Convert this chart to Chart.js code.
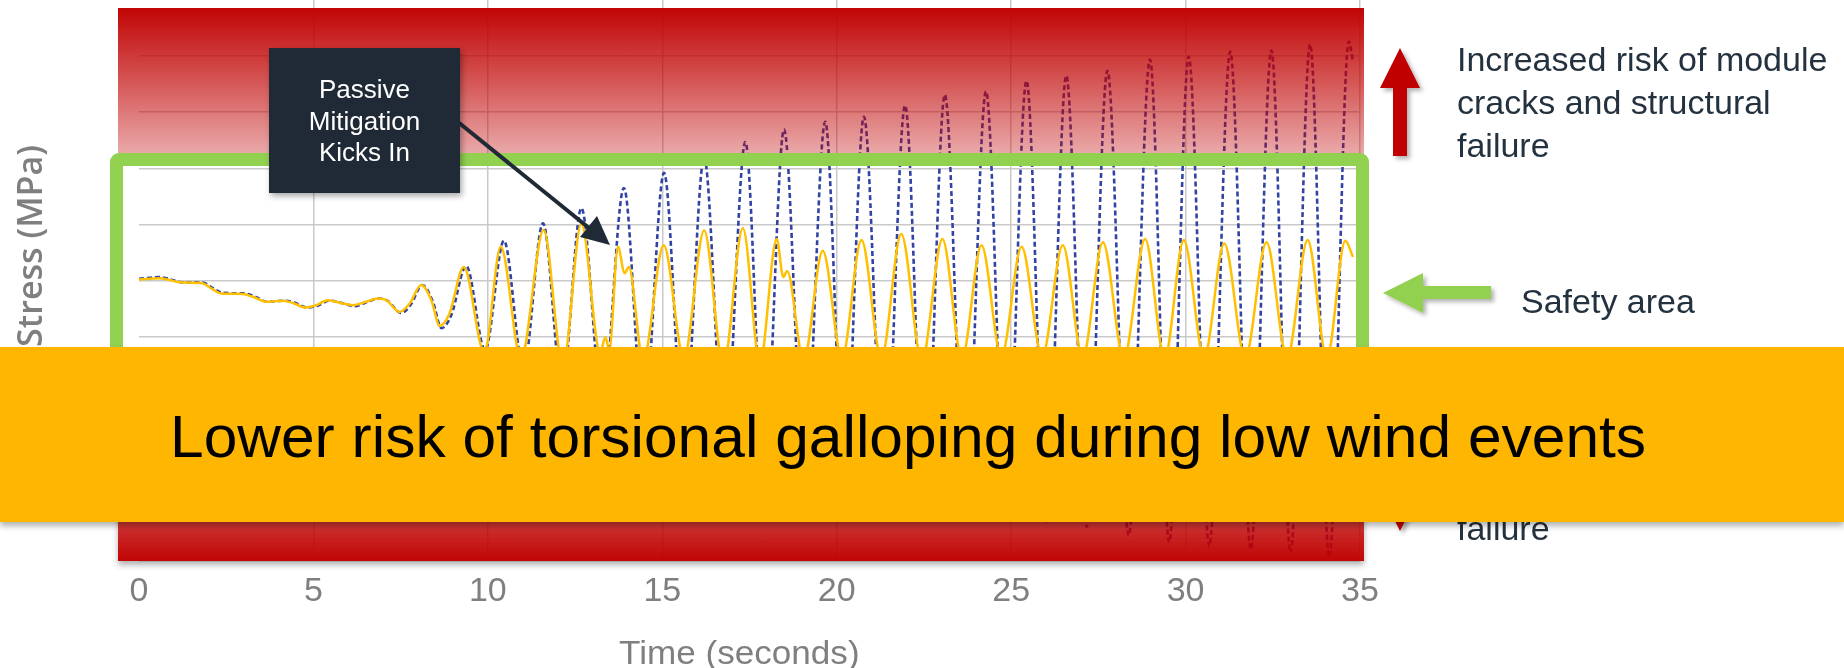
<!DOCTYPE html>
<html>
<head>
<meta charset="utf-8">
<title>Torsional galloping stress</title>
<script src="https://cdn.jsdelivr.net/npm/chart.js@4.4.1/dist/chart.umd.min.js"></script>
<style>
  html, body { margin: 0; padding: 0; background: #fff; }
  #stage { position: relative; width: 1844px; height: 668px; overflow: hidden; }
  #stage > * { position: absolute; }
  #stressChart { left: 0; top: 0; }

  /* risk zones: translucent red laid over the plot, strongest at the outer edge */
  .band { left: 118px; width: 1246px; }
  .band.upper { top: 8px; height: 152px; background: linear-gradient(to bottom, rgba(192,0,0,0.98) 0px, rgba(192,0,0,0.66) 75px, rgba(192,0,0,0.34) 145px, rgba(192,0,0,0.32) 152px); }
  .band.lower { top: 426px; height: 135px; background: linear-gradient(to top, rgba(192,0,0,0.98) 0px, rgba(192,0,0,0.34) 135px); box-shadow: 0 4px 6px rgba(0,0,0,.3); }

  .safe-box { left: 110px; top: 153px; width: 1233px; height: 261px; border: 13px solid #92d050; border-radius: 9px; }

  .callout { left: 269px; top: 48px; width: 191px; height: 145px; background: #1f2a36; box-shadow: 2px 3px 6px rgba(0,0,0,.35);
             text-align: center; color: #fff; font: 26px 'Liberation Sans', Arial, sans-serif; line-height: 31.5px; }
  .callout span { display: inline-block; margin-top: 26px; transform-origin: center top; }

  .note { color: #24323f; font: 34px 'Liberation Sans', Arial, sans-serif; line-height: 43px; white-space: nowrap; }

  .axis-title { color: #7f7f7f; white-space: nowrap; line-height: 1; }
  #xTitle { left: 619px; top: 634px; font: 33.5px 'Liberation Sans', Arial, sans-serif; transform-origin: left top; }
  #yTitle { left: 29px; top: 246px; font: 600 34px 'Open Sans', sans-serif; }

  .banner { left: 0; top: 347px; width: 1844px; height: 175px; background: #ffb600; box-shadow: 0 4px 6px rgba(0,0,0,.3); }
  .banner div { position: absolute; left: 170px; top: 59.9px; font: 60px 'Liberation Sans', Arial, sans-serif; line-height: 1;
                color: #000; white-space: nowrap; transform-origin: left top; }
</style>
</head>
<body>
<div id="stage">
  <canvas id="stressChart" width="1844" height="668"></canvas>

  <div class="band upper"></div>
  <div class="band lower"></div>
  <div class="safe-box"></div>

  <svg width="1844" height="668" style="left:0;top:0">
    <defs>
      <filter id="shade" x="-20%" y="-20%" width="160%" height="160%">
        <feDropShadow dx="3" dy="3" stdDeviation="2" flood-color="#000" flood-opacity="0.3"/>
      </filter>
    </defs>
    <!-- red arrows: risk above and below the safe band -->
    <polygon points="1400,48 1420,88 1407,88 1407,156 1393,156 1393,88 1380,88" fill="#c00000" filter="url(#shade)"/>
    <polygon points="1400,531 1420,491 1407,491 1407,423 1393,423 1393,491 1380,491" fill="#c00000" filter="url(#shade)"/>
    <!-- green arrow pointing at the safe band -->
    <polygon points="1383,293 1423,273 1423,286 1491,286 1491,299 1423,299 1423,313" fill="#92d050" filter="url(#shade)"/>
    <!-- pointer from the callout -->
    <line x1="458" y1="122" x2="589" y2="228" stroke="#1f2a36" stroke-width="4"/>
    <polygon points="610,245 580,237 597,216" fill="#1f2a36"/>
  </svg>

  <div class="callout"><span id="calloutText">Passive<br>Mitigation<br>Kicks In</span></div>

  <div class="note" style="left:1457px;top:37.7px">Increased risk of module<br>cracks and structural<br>failure</div>
  <div class="note" style="left:1521px;top:279.7px">Safety area</div>
  <div class="note" style="left:1457px;top:420.7px">Increased risk of module<br>cracks and structural<br>failure</div>

  <div class="axis-title" id="yTitle">Stress (MPa)</div>
  <div class="axis-title" id="xTitle">Time (seconds)</div>

  <div class="banner"><div id="bannerText">Lower risk of torsional galloping during low wind events</div></div>
</div>

<script>
// stress response over time, with and without passive mitigation
const mitigatedTime = [0, 0.59, 0.87, 1.16, 1.82, 2.07, 2.36, 2.98, 3.26, 3.65, 4.13, 4.41, 4.75, 5.08, 5.41, 5.84, 6.13, 6.51, 6.85, 7.09,
  7.47, 7.76, 8.09, 8.38, 8.62, 8.90, 9.31, 9.90, 10.37, 10.95, 11.60, 12.15, 12.68, 13.22, 13.37, 13.48, 13.73, 13.92, 14.04, 14.45,
  15.04, 15.62, 16.20, 16.75, 17.31, 17.80, 18.28, 18.47, 18.58, 19.05, 19.60, 20.15, 20.71, 21.28, 21.85, 22.44, 23.03, 23.59, 24.15,
  24.72, 25.30, 25.89, 26.48, 27.05, 27.63, 28.23, 28.84, 29.40, 29.95, 30.53, 31.11, 31.71, 32.32, 32.91, 33.50, 34.05, 34.58, 34.80];
const mitigatedStress = [0.2, 0.4, 0.1, -0.3, -0.5, -1.4, -2.3, -2.4, -2.9, -3.8, -3.6, -4.0, -4.8, -4.4, -3.5, -4.1, -4.4, -3.8, -3.2, -3.5,
  -5.6, -4.1, -0.8, -3.5, -8.1, -5.9, 2.4, -12.8, 6.0, -13.8, 9.0, -15.1, 10.1, -12.8, -10.1, -12.4, 6.0, 1.3, 2.4, -14.2,
  6.3, -13.8, 8.9, -15.1, 9.3, -14.6, 7.4, 0.6, 1.7, -14.2, 5.3, -13.8, 7.2, -13.8, 8.3, -14.2, 7.4, -13.8, 6.3,
  -13.5, 6.0, -13.5, 6.3, -13.7, 6.8, -13.8, 7.4, -13.8, 7.2, -13.7, 6.6, -13.7, 6.8, -13.8, 7.2, -13.8, 7.1, 4.2];

const freeTime = [0, 0.59, 0.90, 1.20, 1.85, 2.10, 2.40, 3.00, 3.30, 3.68, 4.15, 4.45, 4.80, 5.12, 5.45, 5.88, 6.17, 6.55, 6.88, 7.12,
  7.52, 7.80, 8.12, 8.42, 8.67, 8.95, 9.38, 9.92, 10.46, 11.02, 11.58, 12.13, 12.68, 13.29, 13.90, 14.47, 15.05, 15.62, 16.20, 16.79,
  17.38, 17.93, 18.49, 19.08, 19.67, 20.22, 20.78, 21.37, 21.96, 22.53, 23.10, 23.69, 24.28, 24.86, 25.44, 26.01, 26.58, 27.17, 27.76,
  28.37, 28.98, 29.53, 30.09, 30.68, 31.28, 31.87, 32.46, 33.01, 33.57, 34.12, 34.68, 34.80];
const freeStress = [0.3, 0.6, 0.2, -0.3, -0.4, -1.3, -2.2, -2.3, -2.8, -3.8, -3.6, -3.9, -4.8, -4.5, -3.6, -4.1, -4.6, -3.8, -3.2, -3.6,
  -5.8, -4.2, -0.8, -3.7, -8.5, -6.2, 2.6, -12.4, 7.1, -15.6, 10.2, -18.5, 12.9, -21.7, 16.5, -24.7, 19.2, -27.5, 21.9, -30.3,
  24.7, -32.8, 26.9, -34.6, 28.3, -35.7, 29.2, -37.1, 31.2, -39.1, 33.1, -40.4, 33.7, -41.6, 35.6, -43.0, 36.5, -43.9, 37.4,
  -45.4, 39.4, -46.6, 39.9, -47.3, 40.8, -47.9, 41.0, -48.5, 42.1, -49.3, 42.6, 39.0];

const timeTicks = [0, 5, 10, 15, 20, 25, 30, 35];
const stressRange = [-50, 50];

const toPoints = (xs, ys) => xs.map((x, i) => ({ x: x, y: ys[i] }));
const gridGray = '#c9c9c9';

new Chart(document.getElementById('stressChart'), {
  type: 'line',
  data: {
    datasets: [
      {
        label: 'With passive mitigation',
        data: toPoints(mitigatedTime, mitigatedStress),
        borderColor: '#ffc000',
        borderWidth: 2.5,
        pointRadius: 0,
        cubicInterpolationMode: 'monotone'
      },
      {
        label: 'Without mitigation',
        data: toPoints(freeTime, freeStress),
        borderColor: '#3343a3',
        borderWidth: 2.6,
        borderDash: [5, 3],
        pointRadius: 0,
        cubicInterpolationMode: 'monotone'
      }
    ]
  },
  options: {
    responsive: false,
    animation: false,
    events: [],
    layout: { padding: { left: 139, right: 484, top: 0, bottom: 0 } },
    plugins: { legend: { display: false }, tooltip: { enabled: false } },
    scales: {
      x: {
        type: 'linear',
        min: timeTicks[0],
        max: timeTicks[timeTicks.length - 1],
        afterBuildTicks: (scale) => { scale.ticks = timeTicks.map(v => ({ value: v })); },
        afterFit: (scale) => { scale.height = 107; },
        ticks: {
          padding: 10,
          maxRotation: 0,
          color: '#7f7f7f',
          font: { family: "'Liberation Sans Narrow', 'Liberation Sans', Arial, sans-serif", size: 34 }
        },
        grid: {
          drawTicks: false,
          lineWidth: 1.5,
          color: (ctx) => (ctx.tick && ctx.tick.value === 0 ? 'rgba(0,0,0,0)' : gridGray)
        },
        border: { display: false }
      },
      y: {
        min: stressRange[0],
        max: stressRange[1],
        ticks: { display: false, stepSize: 10 },
        afterFit: (scale) => { scale.width = 0; },
        grid: {
          drawTicks: false,
          lineWidth: 1.5,
          color: (ctx) => (ctx.tick && ctx.tick.value === stressRange[1] ? 'rgba(0,0,0,0)' : gridGray)
        },
        border: { display: false }
      }
    }
  }
});

// stretch the text blocks to the widths used in the layout
const banner = document.getElementById('bannerText');
banner.style.transform = `scaleX(${1476 / banner.offsetWidth})`;

const xTitle = document.getElementById('xTitle');
xTitle.style.transform = `scaleX(${241 / xTitle.offsetWidth})`;

const yTitle = document.getElementById('yTitle');
yTitle.style.transform = `translate(-50%, -50%) rotate(-90deg) scaleX(${202 / yTitle.offsetWidth})`;

const callout = document.getElementById('calloutText');
callout.style.transform = `scaleX(${111 / callout.offsetWidth})`;
</script>
</body>
</html>
